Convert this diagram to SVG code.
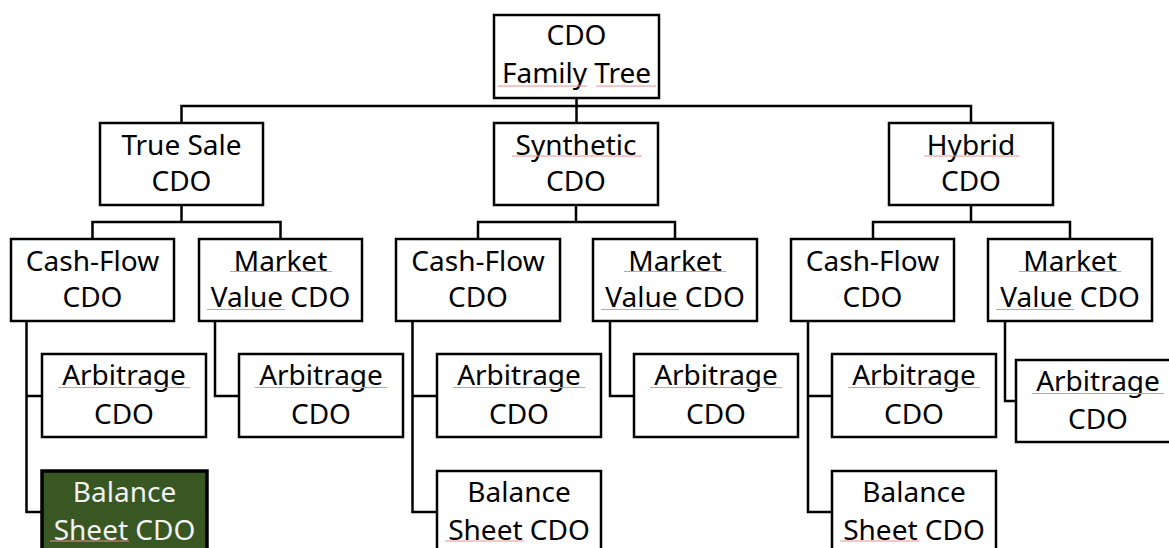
<svg xmlns="http://www.w3.org/2000/svg" width="1169" height="548" viewBox="0 0 1169 548">
  <style>
    .box { fill: #ffffff; stroke: #000000; stroke-width: 2.5; }
    .box.hl { fill: #385723; stroke-width: 3.5; }
    .lbl { font-family: "Noto Sans", "Open Sans", "Liberation Sans", sans-serif; font-size: 28px; fill: #000000; text-anchor: middle; }
    .hl-lbl { fill: #f2f2f2; }
    .link { fill: none; stroke: #000000; stroke-width: 2.5; }
    .spell { fill: none; stroke: #f09090; stroke-width: 1; }
  </style>

  <!-- connectors -->
  <g id="connectors">
    <!-- root to level 1 -->
    <path class="link" d="M576.5 98 V106 M181.5 123 V106 H971 V123 M576.5 106 V123"/>
    <!-- True Sale children -->
    <path class="link" d="M181.5 205 V222 M92.5 239 V222 H280.5 V239"/>
    <!-- Synthetic children -->
    <path class="link" d="M576 205 V222 M478 239 V222 H675 V239"/>
    <!-- Hybrid children -->
    <path class="link" d="M971 205 V222 M873 239 V222 H1070 V239"/>
    <!-- True Sale / Cash-Flow -->
    <path class="link" d="M26.5 321 V512 H41 M26.5 396 H42"/>
    <!-- True Sale / Market Value -->
    <path class="link" d="M215 321 V396 H239"/>
    <!-- Synthetic / Cash-Flow -->
    <path class="link" d="M412.5 321 V512 H437 M412.5 396 H437"/>
    <!-- Synthetic / Market Value -->
    <path class="link" d="M610 321 V396 H634"/>
    <!-- Hybrid / Cash-Flow -->
    <path class="link" d="M808 321 V512 H832 M808 396 H832"/>
    <!-- Hybrid / Market Value -->
    <path class="link" d="M1005 321 V401 H1016"/>
  </g>

  <!-- level 0 -->
  <g id="root">
    <rect class="box" x="494" y="15" width="165" height="83"/>
    <text class="lbl" x="576.5" y="45">CDO</text>
    <text class="lbl" x="576.5" y="83">Family Tree</text>
  </g>

  <!-- level 1 -->
  <g id="true-sale">
    <rect class="box" x="100" y="123" width="163" height="82"/>
    <text class="lbl" x="181.5" y="155">True Sale</text>
    <text class="lbl" x="181.5" y="190.5">CDO</text>
  </g>
  <g id="synthetic">
    <rect class="box" x="494" y="123" width="164" height="82"/>
    <text class="lbl" x="576" y="155">Synthetic</text>
    <text class="lbl" x="576" y="190.5">CDO</text>
  </g>
  <g id="hybrid">
    <rect class="box" x="889" y="123" width="164" height="82"/>
    <text class="lbl" x="971" y="155">Hybrid</text>
    <text class="lbl" x="971" y="190.5">CDO</text>
  </g>

  <!-- level 2 -->
  <g id="ts-cashflow">
    <rect class="box" x="11" y="239" width="163" height="82"/>
    <text class="lbl" x="92.5" y="271">Cash-Flow</text>
    <text class="lbl" x="92.5" y="307">CDO</text>
  </g>
  <g id="ts-market">
    <rect class="box" x="199" y="239" width="163" height="82"/>
    <text class="lbl" x="280.5" y="271">Market</text>
    <text class="lbl" x="280.5" y="307">Value CDO</text>
  </g>
  <g id="syn-cashflow">
    <rect class="box" x="396" y="239" width="164" height="82"/>
    <text class="lbl" x="478" y="271">Cash-Flow</text>
    <text class="lbl" x="478" y="307">CDO</text>
  </g>
  <g id="syn-market">
    <rect class="box" x="593" y="239" width="164" height="82"/>
    <text class="lbl" x="675" y="271">Market</text>
    <text class="lbl" x="675" y="307">Value CDO</text>
  </g>
  <g id="hyb-cashflow">
    <rect class="box" x="791" y="239" width="163" height="82"/>
    <text class="lbl" x="872.5" y="271">Cash-Flow</text>
    <text class="lbl" x="872.5" y="307">CDO</text>
  </g>
  <g id="hyb-market">
    <rect class="box" x="988" y="239" width="164" height="82"/>
    <text class="lbl" x="1070" y="271">Market</text>
    <text class="lbl" x="1070" y="307">Value CDO</text>
  </g>

  <!-- level 3 -->
  <g id="ts-cf-arbitrage">
    <rect class="box" x="42" y="354" width="164" height="83"/>
    <text class="lbl" x="124" y="385">Arbitrage</text>
    <text class="lbl" x="124" y="423.5">CDO</text>
  </g>
  <g id="ts-cf-balance">
    <rect class="box hl" x="42" y="471" width="165" height="90"/>
    <text class="lbl hl-lbl" x="124.5" y="502">Balance</text>
    <text class="lbl hl-lbl" x="124.5" y="540">Sheet CDO</text>
  </g>
  <g id="ts-mv-arbitrage">
    <rect class="box" x="239" y="354" width="164" height="83"/>
    <text class="lbl" x="321" y="385">Arbitrage</text>
    <text class="lbl" x="321" y="423.5">CDO</text>
  </g>
  <g id="syn-cf-arbitrage">
    <rect class="box" x="437" y="354" width="164" height="83"/>
    <text class="lbl" x="519" y="385">Arbitrage</text>
    <text class="lbl" x="519" y="423.5">CDO</text>
  </g>
  <g id="syn-cf-balance">
    <rect class="box" x="437" y="471" width="164" height="90"/>
    <text class="lbl" x="519" y="502">Balance</text>
    <text class="lbl" x="519" y="540">Sheet CDO</text>
  </g>
  <g id="syn-mv-arbitrage">
    <rect class="box" x="634" y="354" width="164" height="83"/>
    <text class="lbl" x="716" y="385">Arbitrage</text>
    <text class="lbl" x="716" y="423.5">CDO</text>
  </g>
  <g id="hyb-cf-arbitrage">
    <rect class="box" x="832" y="354" width="164" height="83"/>
    <text class="lbl" x="914" y="385">Arbitrage</text>
    <text class="lbl" x="914" y="423.5">CDO</text>
  </g>
  <g id="hyb-cf-balance">
    <rect class="box" x="832" y="471" width="164" height="90"/>
    <text class="lbl" x="914" y="502">Balance</text>
    <text class="lbl" x="914" y="540">Sheet CDO</text>
  </g>
  <g id="hyb-mv-arbitrage">
    <rect class="box" x="1016" y="360" width="164" height="82"/>
    <text class="lbl" x="1098" y="391">Arbitrage</text>
    <text class="lbl" x="1098" y="428.5">CDO</text>
  </g>

  <!-- spelling underlines -->
  <g id="spell-marks">
    <path class="spell" d="M498 86 H587 M596 86 H656"/>
    <path class="spell" d="M512 156 H642 M924 156 H1019"/>
    <path class="spell" d="M230 271.5 H332 M207 309.5 H285"/>
    <path class="spell" d="M624 271.5 H726 M601 309.5 H679"/>
    <path class="spell" d="M1019 271.5 H1121 M996 309.5 H1074"/>
    <path class="spell" d="M58 387.5 H190 M255 387.5 H387 M453 387.5 H585 M650 387.5 H782 M848 387.5 H980 M1032 393.5 H1164"/>
    <path class="spell" d="M50 541 H129 M445 541 H524 M840 541 H919"/>
  </g>
</svg>
